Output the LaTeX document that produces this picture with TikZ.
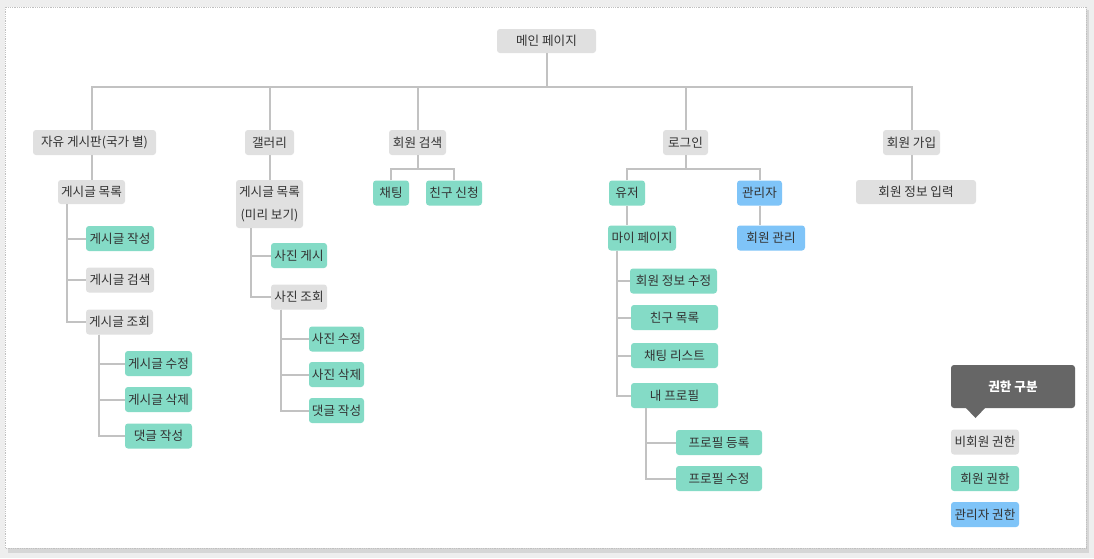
\documentclass[tikz,border=0pt]{standalone}
\usepackage{fontspec}
\setmainfont{Noto Sans CJK KR}
\definecolor{bgc}{HTML}{EEEEEE}
\definecolor{shc}{HTML}{D6D6D6}
\definecolor{brd}{HTML}{C0C0C0}
\definecolor{grayb}{HTML}{E0E0E0}
\definecolor{greenb}{HTML}{84DBC6}
\definecolor{blueb}{HTML}{7FC4F8}
\definecolor{txt}{HTML}{333333}
\definecolor{linec}{HTML}{C2C2C2}
\definecolor{darkb}{HTML}{666666}
\tikzset{
  box/.style={rounded corners=3pt, inner sep=0pt, minimum height=25pt, text=txt,
    font=\fontsize{12.6}{23}\selectfont, align=center},
  gb/.style={box, fill=grayb},
  tb/.style={box, fill=greenb},
  bb/.style={box, fill=blueb},
  conn/.style={draw=linec, line width=2pt},
}
\begin{document}
\begin{tikzpicture}[x=1pt,y=-1pt]
\useasboundingbox (0,0) rectangle (1094,558);
\fill[bgc] (0,0) rectangle (1094,558);
\fill[shc] (8,10) rectangle (1089,553);
\fill[white] (5,7) rectangle (1086,548);
\draw[brd, densely dotted, line width=0.8pt] (5,7) rectangle (1086,548);

% nodes
\node[gb, minimum width=99pt, minimum height=24pt] (main) at (546.5,41) {메인 페이지};
\node[gb, minimum width=123pt] (free) at (94.5,142.5) {자유 게시판(국가 별)};
\node[gb, minimum width=49pt] (gal) at (269.5,142.5) {갤러리};
\node[gb, minimum width=57pt] (srch) at (417.5,142.5) {회원 검색};
\node[gb, minimum width=45pt] (login) at (685.5,142.5) {로그인};
\node[gb, minimum width=57pt] (join) at (911.5,142.5) {회원 가입};

\node[gb, minimum width=67pt, minimum height=24pt] (list1) at (91.5,192) {게시글 목록};
\node[gb, minimum width=67pt, minimum height=48pt] (list2) at (269.5,204) {게시글 목록\\(미리 보기)};
\node[tb, minimum width=36pt] (chat) at (391,193) {채팅};
\node[tb, minimum width=56pt] (freq) at (454,193) {친구 신청};
\node[tb, minimum width=36pt] (user) at (627,193) {유저};
\node[bb, minimum width=45pt] (admin) at (759.5,193) {관리자};
\node[gb, minimum width=120pt, minimum height=24pt] (input) at (916,192) {회원 정보 입력};

\node[tb, minimum width=68pt] (mypage) at (642,238) {마이 페이지};
\node[bb, minimum width=68pt] (amgr) at (771,238) {회원 관리};

\node[tb, minimum width=68pt] (w1) at (120,238.5) {게시글 작성};
\node[gb, minimum width=68pt] (s1) at (120,280) {게시글 검색};
\node[gb, minimum width=67pt] (v1) at (119.5,322) {게시글 조회};
\node[tb, minimum width=67pt] (e1) at (158.5,363.5) {게시글 수정};
\node[tb, minimum width=67pt] (d1) at (158.5,399.5) {게시글 삭제};
\node[tb, minimum width=67pt] (c1) at (158.5,436) {댓글 작성};

\node[tb, minimum width=56pt] (pp) at (299,255.5) {사진 게시};
\node[gb, minimum width=56pt] (pv) at (299,297) {사진 조회};
\node[tb, minimum width=55pt] (pe) at (336.5,339) {사진 수정};
\node[tb, minimum width=55pt] (pd) at (336.5,374.5) {사진 삭제};
\node[tb, minimum width=55pt] (c2) at (336.5,410.5) {댓글 작성};

\node[tb, minimum width=87pt] (ie) at (673.5,281) {회원 정보 수정};
\node[tb, minimum width=87pt] (fl) at (674.5,317.5) {친구 목록};
\node[tb, minimum width=87pt] (cl) at (674.5,355.5) {채팅 리스트};
\node[tb, minimum width=87pt] (prof) at (674.5,395.5) {내 프로필};
\node[tb, minimum width=86pt] (pr) at (719,442.5) {프로필 등록};
\node[tb, minimum width=86pt] (pe2) at (719,478.5) {프로필 수정};

% legend
\node[box, fill=darkb, text=white, minimum width=124pt, minimum height=43pt, font=\fontsize{12.6}{14}\selectfont\bfseries] (lt) at (1013,386.5) {권한 구분};
\fill[darkb] (965,407) -- (986,407) -- (975.5,418) -- cycle;
\node[gb, minimum width=68pt] (l1) at (985,442) {비회원 권한};
\node[tb, minimum width=68pt] (l2) at (985,478.5) {회원 권한};
\node[bb, minimum width=68pt] (l3) at (985,514.5) {관리자 권한};

% connectors
\coordinate (bus) at (546.5,87);
\draw[conn] (main.south) -- (bus);
\draw[conn] ([xshift=-3pt]free.north) |- (bus) -| (join.north);
\draw[conn] (gal.north) -- (gal.north |- bus);
\draw[conn] (srch.north) -- (srch.north |- bus);
\draw[conn] (login.north) -- (login.north |- bus);

\draw[conn] (list1.north) -- (list1.north |- free.south);
\draw[conn] (list2.north) -- (gal.south);
\draw[conn] (join.south) -- (join.south |- input.north);

\coordinate (sb) at (417.5,168.5);
\draw[conn] (srch.south) -- (sb);
\draw[conn] (chat.north) |- (sb) -| (freq.north);
\coordinate (lb) at (685.5,168.5);
\draw[conn] (login.south) -- (lb);
\draw[conn] (user.north) |- (lb) -| (admin.north);

\draw[conn] (user.south) -- (user.south |- mypage.north);
\draw[conn] (admin.south) -- (admin.south |- amgr.north);

\coordinate (sp1) at ([xshift=9pt]list1.south west);
\draw[conn] (sp1) |- (w1.west);
\draw[conn] (sp1) |- (s1.west);
\draw[conn] (sp1) |- (v1.west);
\coordinate (sp2) at ([xshift=13pt]v1.south west);
\draw[conn] (sp2) |- (e1.west);
\draw[conn] (sp2) |- (d1.west);
\draw[conn] (sp2) |- (c1.west);
\coordinate (sp3) at ([xshift=15pt]list2.south west);
\draw[conn] (sp3) |- (pp.west);
\draw[conn] (sp3) |- (pv.west);
\coordinate (sp4) at ([xshift=10pt]pv.south west);
\draw[conn] (sp4) |- (pe.west);
\draw[conn] (sp4) |- (pd.west);
\draw[conn] (sp4) |- (c2.west);
\coordinate (sp5) at ([xshift=9pt]mypage.south west);
\draw[conn] (sp5) |- (ie.west);
\draw[conn] (sp5) |- (fl.west);
\draw[conn] (sp5) |- (cl.west);
\draw[conn] (sp5) |- (prof.west);
\coordinate (sp6) at ([xshift=15pt]prof.south west);
\draw[conn] (sp6) |- (pr.west);
\draw[conn] (sp6) |- (pe2.west);
\end{tikzpicture}
\end{document}
